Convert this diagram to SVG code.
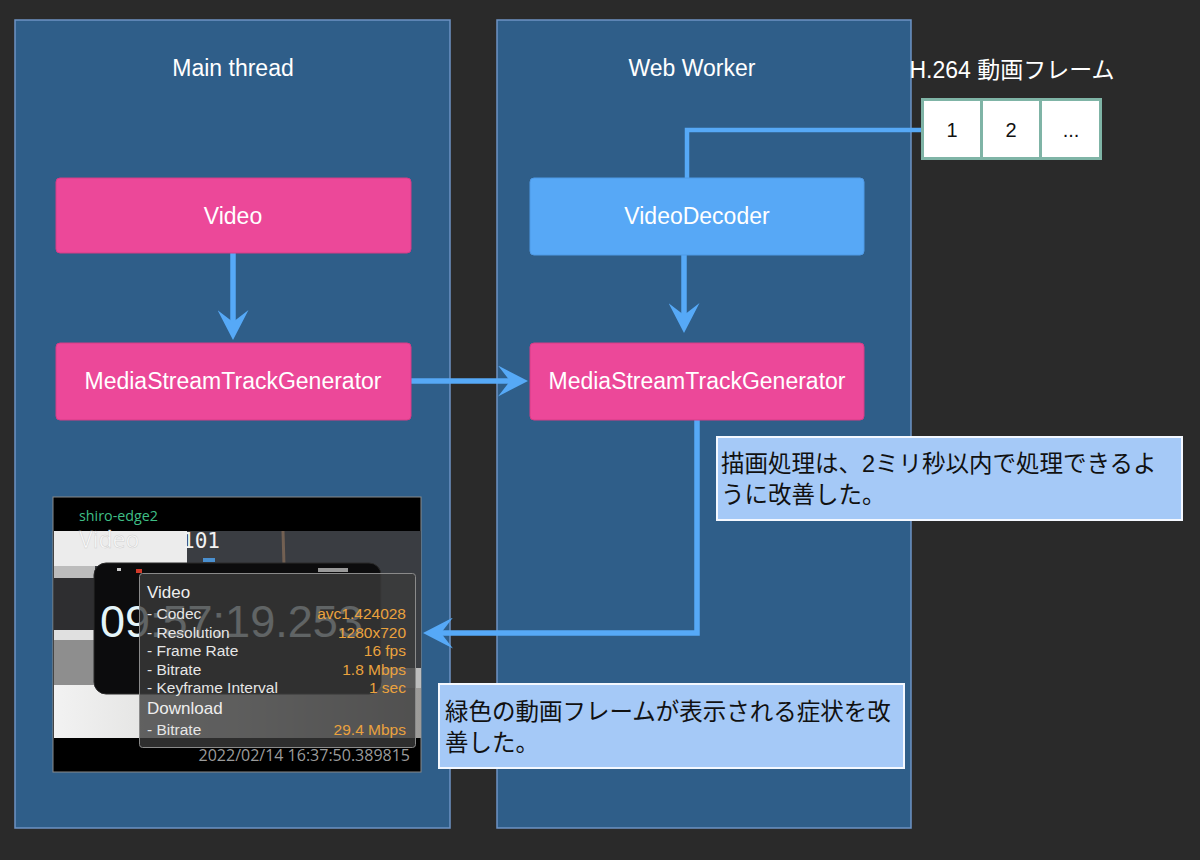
<svg xmlns="http://www.w3.org/2000/svg" width="1200" height="860" viewBox="0 0 1200 860">
<style>
.panel{fill:#2f5e89;stroke:#6d93c4;stroke-width:1.5}
.title{font-family:"Liberation Sans","Noto Sans CJK JP",sans-serif;font-size:23px;fill:#ffffff;text-anchor:middle}
.pink{fill:#ec4899;stroke:#d63c86;stroke-width:1}
.blue{fill:#57a8f6;stroke:#4f9ae6;stroke-width:1}
.label{font-family:"Liberation Sans",sans-serif;font-size:23px;fill:#ffffff;text-anchor:middle}
.edge{fill:none;stroke:#56a9f7;stroke-width:5.5}
.note{fill:#a5c9f7;stroke:#f4f8ff;stroke-width:2}
.ntext{font-family:"Liberation Sans","Noto Sans CJK JP",sans-serif;font-size:23.5px;fill:#111111}
.cell{fill:#ffffff;stroke:#7fb4a6;stroke-width:3}
.ctext{font-family:"Liberation Sans",sans-serif;font-size:20px;fill:#111111;text-anchor:middle}
.ov{font-family:"Liberation Sans",sans-serif;font-size:15.5px;fill:#e6e6e6}
.ovh{font-family:"Liberation Sans",sans-serif;font-size:17px;fill:#eeeeee}
.ovv{font-family:"Liberation Sans",sans-serif;font-size:15.5px;fill:#eaa23e;text-anchor:end}
</style>
<defs>
<marker id="arrow" viewBox="0 0 30 31" refX="14" refY="15.5" markerWidth="30" markerHeight="31" markerUnits="userSpaceOnUse" orient="auto">
<path d="M0,0 L30,15.5 L0,31 L12,15.5 Z" fill="#56a9f7"/>
</marker>
<linearGradient id="table" x1="0" y1="0" x2="1" y2="0">
<stop offset="0" stop-color="#f2f2f2"/>
<stop offset="0.5" stop-color="#d8d8d6"/>
<stop offset="1" stop-color="#9c9a98"/>
</linearGradient>
</defs>
<rect x="0" y="0" width="1200" height="860" fill="#2a2a2a"/>

<g id="main-thread">
<rect class="panel" x="15" y="20" width="435" height="808"/>
<text class="title" x="233" y="76">Main thread</text>
</g>
<g id="web-worker">
<rect class="panel" x="497" y="20" width="414" height="808"/>
<text class="title" x="692" y="76">Web Worker</text>
</g>

<g id="connectors">
<line class="edge" x1="233" y1="253" x2="233" y2="324" marker-end="url(#arrow)"/>
<line class="edge" x1="411" y1="381" x2="512" y2="381" marker-end="url(#arrow)"/>
<polyline class="edge" points="921,130 687,130 687,178" style="stroke-width:4.5"/>
<line class="edge" x1="684" y1="255" x2="684" y2="317" marker-end="url(#arrow)"/>
<polyline class="edge" points="697,420 697,633 439,633" marker-end="url(#arrow)"/>
</g>

<g id="video">
<rect class="pink" x="56" y="178" width="355" height="75" rx="4"/>
<text class="label" x="233" y="224">Video</text>
</g>
<g id="mstg-main">
<rect class="pink" x="56" y="343" width="355" height="77" rx="4"/>
<text class="label" x="233" y="389">MediaStreamTrackGenerator</text>
</g>
<g id="video-decoder">
<rect class="blue" x="530" y="178" width="334" height="77" rx="4"/>
<text class="label" x="697" y="224">VideoDecoder</text>
</g>
<g id="mstg-worker">
<rect class="pink" x="530" y="343" width="334" height="77" rx="4"/>
<text class="label" x="697" y="389">MediaStreamTrackGenerator</text>
</g>

<g id="h264-frames">
<text class="title" x="1012" y="78">H.264 動画フレーム</text>
<rect class="cell" x="922.5" y="99.5" width="59" height="59"/>
<rect class="cell" x="981.5" y="99.5" width="59" height="59"/>
<rect class="cell" x="1040.5" y="99.5" width="60" height="59"/>
<text class="ctext" x="952" y="137">1</text>
<text class="ctext" x="1011" y="137">2</text>
<text class="ctext" x="1071" y="137">...</text>
</g>

<g id="note-render">
<rect class="note" x="717" y="437" width="465" height="83"/>
<text class="ntext" x="721" y="472">描画処理は、2ミリ秒以内で処理できるよ</text>
<text class="ntext" x="721" y="503">うに改善した。</text>
</g>
<g id="note-green">
<rect class="note" x="439" y="684" width="465" height="84"/>
<text class="ntext" x="445" y="720">緑色の動画フレームが表示される症状を改</text>
<text class="ntext" x="445" y="751">善した。</text>
</g>

<g id="screenshot">
<rect x="53" y="497" width="368" height="275" fill="#000000" stroke="#8a8a8a" stroke-width="1"/>
<text x="79" y="521" font-family="'Open Sans','Noto Sans',sans-serif" font-size="14.3" fill="#3fbf86">shiro-edge2</text>
<rect x="54" y="531" width="367" height="207" fill="#3a3d42"/>
<rect x="54" y="531" width="133" height="35" fill="#ececec"/>
<rect x="54" y="566" width="41" height="125" fill="#bcbcbc"/>
<rect x="54" y="578" width="42" height="52" fill="#2e2e30"/>
<rect x="54" y="630" width="42" height="10" fill="#e0e0e0"/>
<rect x="54" y="640" width="42" height="55" fill="#8e8e8e"/>
<rect x="54" y="685" width="367" height="53" fill="url(#table)"/>
<rect x="380" y="668" width="41" height="20" fill="#bdbdbd"/>
<rect x="203" y="558" width="12" height="4" fill="#4a90d0"/>
<line x1="283" y1="531" x2="285" y2="600" stroke="#8a6f5a" stroke-width="3" opacity="0.7"/>
<rect x="94" y="563" width="287" height="131" rx="12" fill="#0c0c0d" stroke="#2a2a2a" stroke-width="1"/>
<rect x="117" y="568" width="4" height="3" fill="#cccccc"/>
<rect x="136" y="569" width="6" height="4" fill="#d23a2a"/>
<rect x="318" y="568" width="30" height="4" fill="#999999"/>
<text x="79" y="548" font-family="'Open Sans','Noto Sans',sans-serif" font-size="23" fill="#fbfbfb" stroke="#cfcfcf" stroke-width="0.5">Video</text>
<text x="182" y="548" font-family="'DejaVu Sans Mono',monospace" font-size="21" fill="#f2f2f2">101</text>
<text x="100" y="637" font-family="'Liberation Sans',sans-serif" font-size="45" fill="#e4f4f8">09:57:19.253</text>
<rect x="139.5" y="573.5" width="276" height="174" rx="3" fill="#3b3b3b" fill-opacity="0.78" stroke="#8a8a8a" stroke-width="1"/>
<text class="ovh" x="147" y="598">Video</text>
<text class="ov" x="147" y="619">- Codec</text>
<text class="ov" x="147" y="638">- Resolution</text>
<text class="ov" x="147" y="656">- Frame Rate</text>
<text class="ov" x="147" y="675">- Bitrate</text>
<text class="ov" x="147" y="693">- Keyframe Interval</text>
<text class="ovh" x="147" y="714">Download</text>
<text class="ov" x="147" y="735">- Bitrate</text>
<text class="ovv" x="406" y="619">avc1.424028</text>
<text class="ovv" x="406" y="638">1280x720</text>
<text class="ovv" x="406" y="656">16 fps</text>
<text class="ovv" x="406" y="675">1.8 Mbps</text>
<text class="ovv" x="406" y="693">1 sec</text>
<text class="ovv" x="406" y="735">29.4 Mbps</text>
<text x="410" y="761" font-family="'Open Sans','Noto Sans',sans-serif" font-size="16" fill="#9b9b9b" text-anchor="end">2022/02/14 16:37:50.389815</text>
</g>
</svg>
